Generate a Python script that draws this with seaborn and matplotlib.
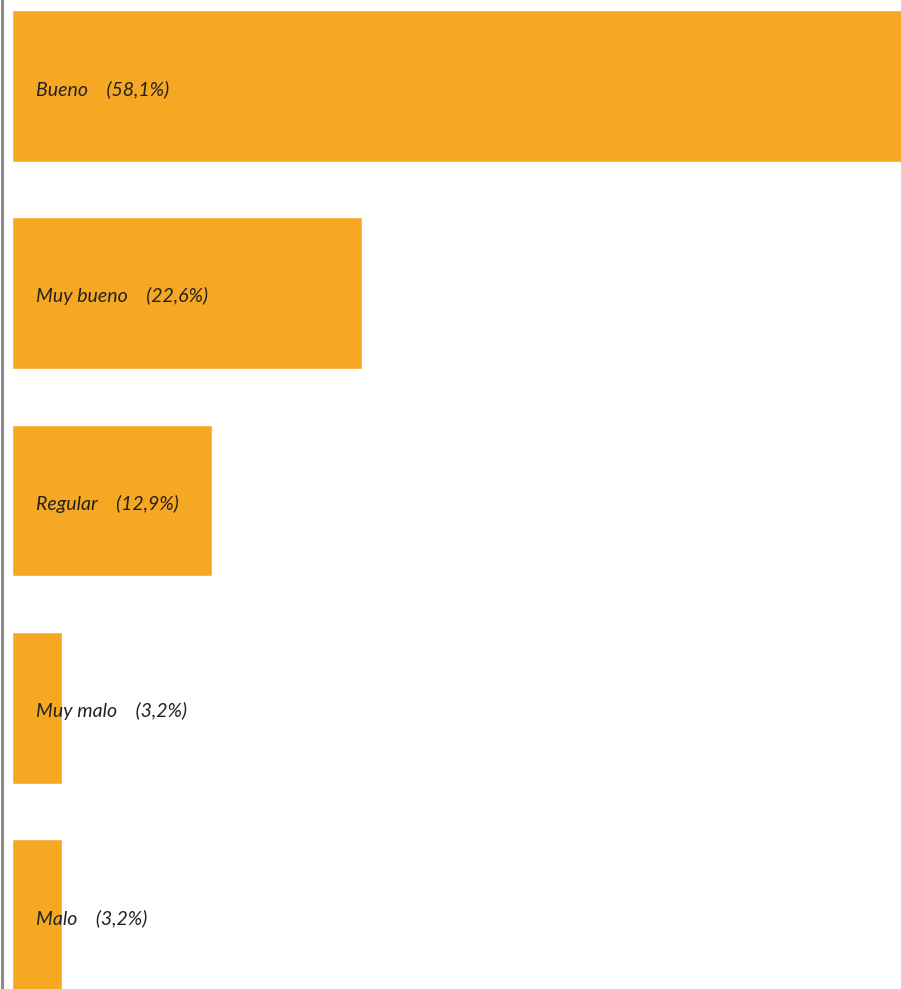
import matplotlib
matplotlib.use("Agg")
import matplotlib.pyplot as plt
import seaborn as sns
import pandas as pd

# ─── Data ─────────────────────────────────────────────────────────
categorias = ["Bueno", "Muy bueno", "Regular", "Muy malo", "Malo"]
porcentajes = [58.1, 22.6, 12.9, 3.2, 3.2]

ORANGE = "#F7A823"

sns.set_theme(style="white")
plt.rcParams["font.family"] = ["Lato", "DejaVu Sans"]

df = pd.DataFrame({"categoria": categorias, "pct": porcentajes})

fig = plt.figure(figsize=(9.01, 9.89), dpi=100)
ax = fig.add_axes([2 / 901, 0, 1 - 2 / 901, 1])

sns.barplot(data=df, x="pct", y="categoria", orient="h", color=ORANGE,
            saturation=1, width=0.733, ax=ax)

ax.set_xlim(-0.66, 57.5)
ax.set_ylim(4.357, -0.415)

for i, (c, p) in enumerate(zip(categorias, porcentajes)):
    txt = f"{c}    ({p:.1f}%)".replace(".", ",")
    ax.text(1.55, i + 0.015, txt, va="center", ha="left", fontsize=14,
            style="italic", color="#222222")

for s in ["top", "right", "bottom"]:
    ax.spines[s].set_visible(False)
ax.spines["left"].set_color("#8a8a8a")
ax.spines["left"].set_linewidth(2.2)
ax.set_xticks([])
ax.set_yticks([])
ax.set_xlabel("")
ax.set_ylabel("")

fig.savefig("out.png", dpi=100)
